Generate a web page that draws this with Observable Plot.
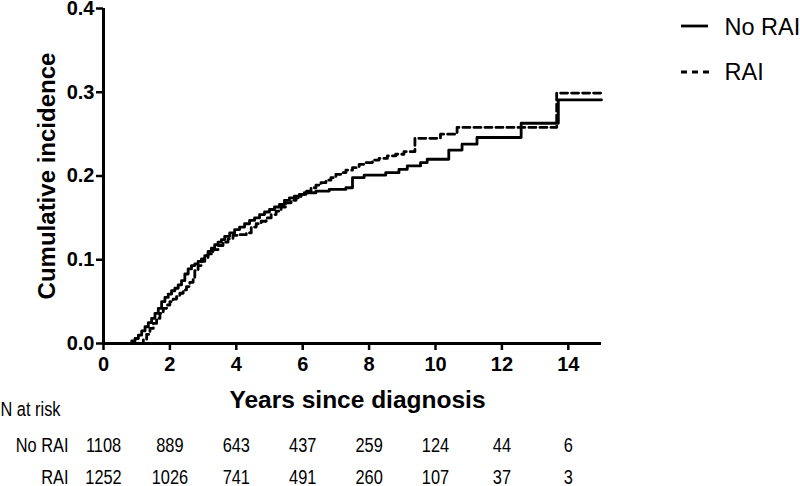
<!DOCTYPE html>
<html>
<head>
<meta charset="utf-8">
<script src="https://cdn.jsdelivr.net/npm/d3@7"></script>
<script src="https://cdn.jsdelivr.net/npm/@observablehq/plot@0.6"></script>
<style>
  html, body { margin: 0; padding: 0; background: white; }
  #chart { width: 800px; height: 486px; overflow: hidden; }
</style>
</head>
<body>
<div id="chart"></div>
<script>
// ---- Data ----
const xTicks = [0, 2, 4, 6, 8, 10, 12, 14];
const yTicks = [0, 0.1, 0.2, 0.3, 0.4];

const seriesNames = ["No RAI", "RAI"];

// No RAI (solid) cumulative incidence step points
const noRAI_t = [0.78, 0.85, 0.95, 1.05, 1.15, 1.25, 1.35, 1.45, 1.55, 1.65, 1.75, 1.85, 1.95, 2.05, 2.15, 2.25, 2.35, 2.45, 2.55, 2.65, 2.75, 2.85, 2.95, 3.05, 3.15, 3.25, 3.35, 3.45, 3.55, 3.65, 3.8, 3.95, 4.1, 4.25, 4.4, 4.55, 4.7, 4.85, 5.0, 5.15, 5.3, 5.45, 5.6, 5.75, 5.9, 6.05, 6.4, 6.8, 7.3, 7.5, 7.85, 8.5, 8.9, 9.15, 9.55, 9.75, 10.4, 10.8, 11.25, 12.58, 13.7, 15.0];
const noRAI_v = [0, 0.003, 0.006, 0.010, 0.015, 0.020, 0.025, 0.030, 0.036, 0.042, 0.050, 0.055, 0.059, 0.063, 0.066, 0.070, 0.075, 0.083, 0.089, 0.093, 0.095, 0.098, 0.101, 0.105, 0.110, 0.114, 0.118, 0.121, 0.124, 0.128, 0.132, 0.136, 0.139, 0.143, 0.147, 0.150, 0.154, 0.157, 0.160, 0.163, 0.166, 0.171, 0.174, 0.176, 0.178, 0.180, 0.182, 0.184, 0.186, 0.198, 0.201, 0.204, 0.208, 0.212, 0.216, 0.220, 0.231, 0.238, 0.246, 0.263, 0.291, 0.291];

// RAI (dashed) cumulative incidence step points
const rai_t = [1.1, 1.2, 1.3, 1.4, 1.5, 1.6, 1.7, 1.8, 1.9, 2.0, 2.1, 2.2, 2.3, 2.4, 2.5, 2.6, 2.7, 2.75, 2.85, 2.95, 3.05, 3.15, 3.3, 3.45, 3.6, 3.75, 3.9, 4.05, 4.3, 4.45, 4.6, 4.75, 4.9, 5.05, 5.2, 5.35, 5.5, 5.65, 5.8, 5.95, 6.1, 6.25, 6.4, 6.55, 6.7, 6.85, 7.0, 7.15, 7.3, 7.5, 7.7, 7.9, 8.1, 8.3, 8.55, 8.8, 9.05, 9.38, 10.15, 10.65, 13.65, 15.0];
const rai_v = [0, 0.005, 0.011, 0.018, 0.024, 0.030, 0.036, 0.042, 0.046, 0.050, 0.053, 0.056, 0.060, 0.064, 0.068, 0.073, 0.079, 0.087, 0.093, 0.098, 0.102, 0.107, 0.112, 0.117, 0.121, 0.125, 0.129, 0.130, 0.132, 0.139, 0.143, 0.146, 0.150, 0.154, 0.158, 0.163, 0.168, 0.171, 0.174, 0.178, 0.182, 0.186, 0.189, 0.192, 0.195, 0.198, 0.202, 0.204, 0.207, 0.210, 0.214, 0.216, 0.219, 0.221, 0.224, 0.226, 0.229, 0.245, 0.250, 0.258, 0.299, 0.299];

// Number at risk
const riskNoRAI = ["1108", "889", "643", "437", "259", "124", "44", "6"];
const riskRAI = ["1252", "1026", "741", "491", "260", "107", "37", "3"];

// ---- Tables built from the arrays ----
const noRAIData = noRAI_t.map((t, i) => ({t, v: noRAI_v[i]}));
const raiData = rai_t.map((t, i) => ({t, v: rai_v[i]}));
const riskTable = xTicks.map((t, i) => ({t, noRAI: riskNoRAI[i], rai: riskRAI[i]}));

const FONT = "'Liberation Sans', Arial, Helvetica, sans-serif";
const RISK = {fontSize: 19.5, lineAnchor: "middle", ariaDescription: "risk-table"};

const plot = Plot.plot({
  width: 800,
  height: 486,
  marginLeft: 103,
  marginRight: 199,
  marginTop: 8,
  marginBottom: 143,
  style: {fontFamily: FONT, color: "black", background: "white", overflow: "visible"},
  x: {domain: [0, 15]},
  y: {domain: [0, 0.4]},
  marks: [
    Plot.axisX({ticks: xTicks, tickSize: 7, strokeWidth: 2.5, fontSize: 20, fontWeight: "bold", tickPadding: 6, label: null}),
    Plot.axisY({ticks: yTicks, tickSize: 7, strokeWidth: 2.5, fontSize: 20, fontWeight: "bold", tickPadding: 2, tickFormat: d3.format(".1f"), label: null}),
    Plot.ruleX([0], {strokeWidth: 3}),
    Plot.ruleY([0], {strokeWidth: 3}),
    Plot.line(raiData, {x: "t", y: "v", curve: "step-after", stroke: "black", strokeWidth: 2.8, strokeDasharray: "7,4"}),
    Plot.line(noRAIData, {x: "t", y: "v", curve: "step-after", stroke: "black", strokeWidth: 2.8}),
    // axis titles
    Plot.text(["Years since diagnosis"], {frameAnchor: "bottom", dx: 5, dy: 57, fontSize: 24.5, fontWeight: "bold", textAnchor: "middle", lineAnchor: "middle"}),
    Plot.text(["Cumulative incidence"], {frameAnchor: "left", dx: -56, rotate: -90, fontSize: 24, fontWeight: "bold", textAnchor: "middle", lineAnchor: "middle"}),
    // risk table
    Plot.text(["N at risk"], {...RISK, frameAnchor: "bottom-left", dx: -103, dy: 66, textAnchor: "start"}),
    Plot.text([seriesNames[0]], {...RISK, frameAnchor: "bottom-left", dx: -35, dy: 102, textAnchor: "end"}),
    Plot.text([seriesNames[1]], {...RISK, frameAnchor: "bottom-left", dx: -35, dy: 134, textAnchor: "end"}),
    Plot.text(riskTable, {...RISK, x: "t", text: "noRAI", frameAnchor: "bottom", dy: 102, textAnchor: "middle"}),
    Plot.text(riskTable, {...RISK, x: "t", text: "rai", frameAnchor: "bottom", dy: 134, textAnchor: "middle"}),
    // legend labels
    Plot.text([seriesNames[0]], {frameAnchor: "top-right", dx: 123, dy: 19, textAnchor: "start", lineAnchor: "middle", fontSize: 23.5}),
    Plot.text([seriesNames[1]], {frameAnchor: "top-right", dx: 123, dy: 64, textAnchor: "start", lineAnchor: "middle", fontSize: 23.5})
  ]
});

const svg = d3.select(plot);
// condense the risk-table text horizontally (narrow font look)
svg.selectAll('g[aria-description="risk-table"] text').each(function() {
  const tr = this.getAttribute("transform") || "";
  this.setAttribute("transform", tr + " scale(0.84,1)");
});

// legend line samples
svg.append("line").attr("x1", 681).attr("x2", 708).attr("y1", 26).attr("y2", 26)
  .attr("stroke", "black").attr("stroke-width", 2.8);
svg.append("line").attr("x1", 681).attr("x2", 709).attr("y1", 72).attr("y2", 72)
  .attr("stroke", "black").attr("stroke-width", 2.8).attr("stroke-dasharray", "6,5");

document.getElementById("chart").appendChild(plot);
</script>
</body>
</html>
